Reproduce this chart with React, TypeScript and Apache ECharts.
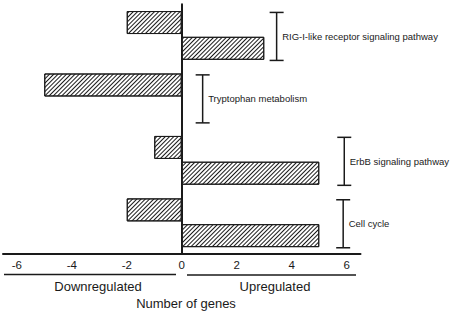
import React, { useEffect, useRef } from "react";
import * as echarts from "echarts";

const pathways = [
  "RIG-I-like receptor signaling pathway",
  "Tryptophan metabolism",
  "ErbB signaling pathway",
  "Cell cycle",
];
const downregulated = [-2, -5, -1, -2];
const upregulated = [3, 0, 5, 5];
const bracketAt = [3.45, 0.76, 5.91, 5.87];
const tickValues = [-6, -4, -2, 0, 2, 4, 6];

const FONT = "'Liberation Sans', Arial, Helvetica, sans-serif";
const INK = "#1a1a1a";

export default function App() {
  const ref = useRef<HTMLDivElement>(null);
  useEffect(() => {
    if (!ref.current) return;
    const chart = echarts.init(ref.current, undefined, { renderer: "svg" });
    const hatch = {
      color: "#ffffff",
      borderColor: INK,
      borderWidth: 1,
      decal: {
        symbol: "rect",
        symbolSize: 1,
        color: INK,
        backgroundColor: "#ffffff",
        dashArrayX: [1, 0],
        dashArrayY: [1, 1.8],
        rotation: -Math.PI / 4,
      },
    };
    const toBar = (v: number) => (v === 0 ? "-" : v);
    chart.setOption({
      animation: false,
      grid: { left: 3, right: 93.5, top: 4.2, bottom: 60, containLabel: false },
      xAxis: {
        type: "value",
        min: -6.5,
        max: 6.5,
        splitLine: { show: false },
        axisTick: { show: false },
        axisLine: { show: true, lineStyle: { color: INK, width: 2 } },
        axisLabel: {
          customValues: tickValues,
          margin: 5,
          fontSize: 11.5,
          color: INK,
          fontFamily: FONT,
        },
      },
      yAxis: {
        type: "category",
        inverse: true,
        data: pathways,
        axisTick: { show: false },
        axisLabel: { show: false },
        axisLine: { show: true, onZero: true, lineStyle: { color: INK, width: 2 } },
      },
      series: [
        {
          type: "bar",
          name: "Downregulated",
          data: downregulated.map(toBar),
          barWidth: 23,
          barGap: "12%",
          itemStyle: hatch,
        },
        {
          type: "bar",
          name: "Upregulated",
          data: upregulated.map(toBar),
          barWidth: 23,
          barGap: "12%",
          itemStyle: hatch,
        },
        {
          type: "custom",
          name: "brackets",
          data: pathways.map((p, i) => [bracketAt[i], i, p]),
          renderItem: (params: any, api: any) => {
            const c = api.coord([api.value(0), api.value(1)]);
            const half = 24;
            const cap = 7;
            const x = c[0];
            const y = c[1] + 1;
            const ls = { stroke: INK, lineWidth: 1.5 };
            return {
              type: "group",
              children: [
                { type: "line", shape: { x1: x, y1: y - half, x2: x, y2: y + half }, style: ls },
                { type: "line", shape: { x1: x - cap, y1: y - half, x2: x + cap, y2: y - half }, style: ls },
                { type: "line", shape: { x1: x - cap, y1: y + half, x2: x + cap, y2: y + half }, style: ls },
                {
                  type: "text",
                  style: {
                    text: pathways[params.dataIndex],
                    x: x + 5.5,
                    y: y,
                    verticalAlign: "middle",
                    align: "left",
                    fontSize: 9.5,
                    fontFamily: FONT,
                    fill: INK,
                  },
                },
              ],
            };
          },
          z: 5,
        },
      ],
      graphic: [
        { type: "line", shape: { x1: 4, y1: 274.5, x2: 176, y2: 274.5 }, style: { stroke: INK, lineWidth: 1.5 } },
        { type: "line", shape: { x1: 187, y1: 275, x2: 356, y2: 275 }, style: { stroke: INK, lineWidth: 1.5 } },
        {
          type: "text",
          x: 98,
          y: 286.5,
          style: { text: "Downregulated", align: "center", verticalAlign: "middle", fontSize: 13, fontFamily: FONT, fill: INK },
        },
        {
          type: "text",
          x: 275,
          y: 286.5,
          style: { text: "Upregulated", align: "center", verticalAlign: "middle", fontSize: 13, fontFamily: FONT, fill: INK },
        },
        {
          type: "text",
          x: 186,
          y: 303.5,
          style: { text: "Number of genes", align: "center", verticalAlign: "middle", fontSize: 13, fontFamily: FONT, fill: INK },
        },
      ],
    });
    return () => chart.dispose();
  }, []);
  return <div ref={ref} style={{ width: 454, height: 314, position: "absolute", left: 0, top: 0 }} />;
}
